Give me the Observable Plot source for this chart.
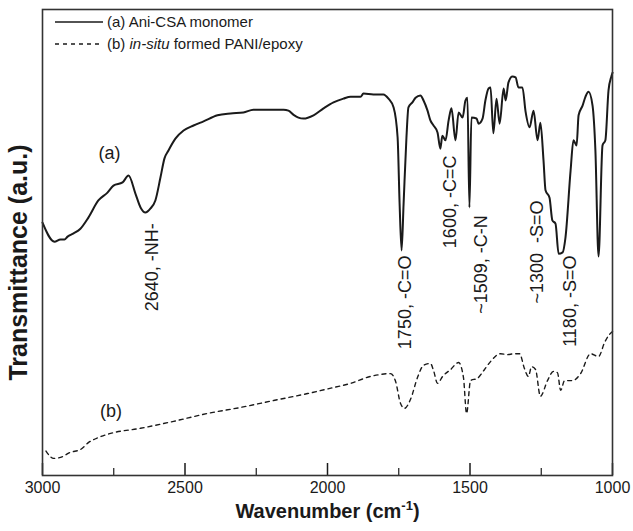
<!DOCTYPE html>
<html>
<head>
<meta charset="utf-8">
<script src="https://cdn.jsdelivr.net/npm/d3@7"></script>
<script src="https://cdn.jsdelivr.net/npm/@observablehq/plot@0.6"></script>
<style>
  html, body { margin: 0; padding: 0; background: #fff; }
  #wrap { position: relative; width: 633px; height: 531px; font-family: "Liberation Sans", Arial, sans-serif; }
  #legend { position: absolute; left: 0; top: 0; pointer-events: none; }
</style>
</head>
<body>
<div id="wrap"></div>
<script>
// (a) Ani-CSA monomer
const wnA = [3000, 2958, 2937, 2923, 2912, 2891, 2867, 2839, 2804, 2772, 2751, 2719, 2698, 2674, 2656, 2639, 2621, 2604, 2586, 2572, 2558, 2533, 2505, 2470, 2435, 2386, 2340, 2295, 2260, 2211, 2154, 2137, 2119, 2102, 2084, 2049, 2014, 1979, 1944, 1919, 1884, 1874, 1839, 1804, 1786, 1768, 1754, 1747, 1740, 1733, 1723, 1716, 1702, 1691, 1674, 1663, 1649, 1639, 1628, 1614, 1604, 1597, 1586, 1575, 1565, 1551, 1540, 1526, 1516, 1509, 1502, 1495, 1477, 1470, 1456, 1446, 1435, 1428, 1418, 1407, 1396, 1382, 1375, 1365, 1351, 1340, 1330, 1316, 1305, 1291, 1277, 1263, 1253, 1242, 1235, 1221, 1211, 1200, 1189, 1175, 1165, 1147, 1137, 1126, 1119, 1105, 1095, 1084, 1070, 1060, 1049, 1035, 1025, 1014, 1004, 1000];
const tA = [54.6, 50.5, 51.0, 51.0, 51.6, 52.3, 53.3, 55.7, 59.4, 61.1, 62.6, 63.3, 64.8, 60.9, 57.9, 56.8, 57.7, 59.4, 64.4, 68.5, 70.2, 72.8, 74.5, 75.6, 76.5, 77.8, 78.2, 78.4, 79.0, 79.0, 79.0, 78.8, 77.9, 77.3, 77.1, 77.8, 79.3, 80.6, 81.4, 81.8, 81.8, 82.5, 82.3, 82.3, 81.4, 79.5, 73.0, 58.7, 48.6, 58.7, 73.0, 79.5, 80.6, 81.6, 82.1, 81.0, 78.8, 76.7, 75.6, 74.1, 70.6, 73.4, 72.4, 76.7, 79.3, 72.4, 78.4, 77.3, 81.0, 81.6, 57.9, 77.3, 77.1, 76.0, 77.1, 81.0, 83.6, 83.8, 73.9, 81.4, 76.0, 83.6, 81.0, 84.9, 86.2, 86.0, 83.8, 83.8, 78.6, 75.2, 78.8, 72.4, 76.2, 68.0, 61.6, 60.0, 55.1, 54.4, 47.9, 48.2, 51.4, 65.9, 72.4, 71.3, 77.8, 79.9, 81.8, 82.9, 79.9, 70.2, 47.3, 71.3, 72.4, 83.2, 86.2, 87.0];

// (b) in-situ formed PANI/epoxy
const wnB = [2989, 2961, 2937, 2902, 2867, 2839, 2804, 2761, 2656, 2540, 2421, 2305, 2189, 2070, 1979, 1919, 1849, 1779, 1761, 1744, 1730, 1709, 1684, 1663, 1639, 1628, 1614, 1596, 1568, 1540, 1523, 1512, 1498, 1474, 1449, 1428, 1393, 1368, 1347, 1326, 1309, 1295, 1284, 1270, 1253, 1228, 1207, 1193, 1182, 1168, 1140, 1112, 1077, 1049, 1028, 1014, 1000];
const tB = [5.4, 3.7, 3.9, 5.0, 5.6, 7.1, 8.2, 9.1, 10.2, 11.7, 13.4, 14.7, 16.2, 17.7, 19.0, 19.9, 21.4, 22.0, 20.3, 15.6, 14.5, 16.4, 21.2, 23.8, 24.2, 22.7, 19.9, 21.4, 22.9, 24.4, 21.2, 13.4, 20.5, 21.0, 22.9, 24.6, 26.3, 26.1, 26.3, 26.3, 23.1, 21.4, 23.5, 22.9, 17.1, 20.5, 22.5, 22.2, 18.4, 20.5, 20.5, 22.0, 26.3, 25.7, 28.7, 30.2, 31.1];

// peak annotations: text, wavenumber of label, transmittance at label's upper end
const peakText = ["2640, -NH-", "1750, -C=O", "1600, -C=C", "~1509, -C-N", "~1300  -S=O", "1180, -S=O"];
const peakWn   = [2614, 1726, 1568, 1460, 1263, 1147];
const peakT    = [54.5, 47.5, 69.1, 56.2, 59.4, 47.5];

// curve labels
const curveText = ["(a)", "(b)"];
const curveWn   = [2765, 2760];
const curveT    = [69.5, 13.8];

// x ticks
const majorTicks = [3000, 2500, 2000, 1500, 1000];
const minorTicks = [2750, 2250, 1750, 1250];

const legendText = ["(a) Ani-CSA monomer", "(b) <tspan font-style='italic'>in-situ</tspan> formed PANI/epoxy"];

const rowsA = wnA.map((w, i) => ({wn: w, t: tA[i]})).sort((p, q) => p.wn - q.wn);
const rowsB = wnB.map((w, i) => ({wn: w, t: tB[i]})).sort((p, q) => p.wn - q.wn);
const peaks = peakText.map((s, i) => ({text: s, wn: peakWn[i], t: peakT[i]}));
const clabels = curveText.map((s, i) => ({text: s, wn: curveWn[i], t: curveT[i]}));

const ink = "#1a1a1a";
const font = "'Liberation Sans', Arial, sans-serif";

const chart = Plot.plot({
  width: 633,
  height: 531,
  marginLeft: 42,
  marginRight: 21,
  marginTop: 9,
  marginBottom: 56,
  style: {fontFamily: font, background: "#fff", color: ink},
  x: {domain: [3000, 1000], axis: null},
  y: {domain: [0, 100.65], axis: null},
  marks: [
    Plot.ruleX(majorTicks, {x: d => d, stroke: ink, strokeWidth: 1.5, insetTop: 454}),
    Plot.ruleX(minorTicks, {x: d => d, stroke: ink, strokeWidth: 1.2, insetTop: 459}),
    Plot.text(majorTicks, {x: d => d, frameAnchor: "bottom", dy: 17, text: d => String(d), fontSize: 16, fill: ink}),
    Plot.line(rowsA, {x: "wn", y: "t", stroke: ink, strokeWidth: 2, curve: "monotone-x"}),
    Plot.line(rowsB, {x: "wn", y: "t", stroke: ink, strokeWidth: 1.4, strokeDasharray: "4,4", curve: "monotone-x"}),
    Plot.text(peaks, {x: "wn", y: "t", text: "text", rotate: -90, textAnchor: "end", fontSize: 18, fill: ink}),
    Plot.text(clabels, {x: "wn", y: "t", text: "text", fontSize: 18, fill: ink}),
    Plot.text(["Transmittance (a.u.)"], {text: d => d, frameAnchor: "left", textAnchor: "middle", dx: -24, dy: 20, rotate: -90, fontSize: 25, fontWeight: "bold", fill: ink}),
    Plot.text(["Wavenumber (cm-1)"], {text: d => d, frameAnchor: "bottom", dy: 42, fontSize: 20, fontWeight: "bold", fill: ink}),
    Plot.frame({stroke: "#333", strokeWidth: 1.6})
  ]
});

const wrap = document.getElementById("wrap");
wrap.appendChild(chart);

// superscript in x title
d3.select(chart).selectAll("text").each(function() {
  if (this.textContent === "Wavenumber (cm-1)") {
    this.innerHTML = "Wavenumber (cm<tspan dy='-8' font-size='13'>-1</tspan><tspan dy='8'>)</tspan>";
  }
});

// legend overlay
const leg = d3.select(wrap).append("svg").attr("id", "legend")
  .attr("width", 633).attr("height", 531)
  .style("font-family", font);
const legY = [22, 44];
const dashes = [null, "4,4"];
legY.forEach((y, i) => {
  leg.append("line").attr("x1", 55).attr("x2", 103).attr("y1", y).attr("y2", y)
    .attr("stroke", ink).attr("stroke-width", i === 0 ? 1.5 : 1.3)
    .attr("stroke-dasharray", dashes[i]);
  leg.append("text").attr("x", 107).attr("y", y).attr("dy", "0.35em")
    .attr("font-size", 15).attr("fill", ink).html(legendText[i]);
});
</script>
</body>
</html>
